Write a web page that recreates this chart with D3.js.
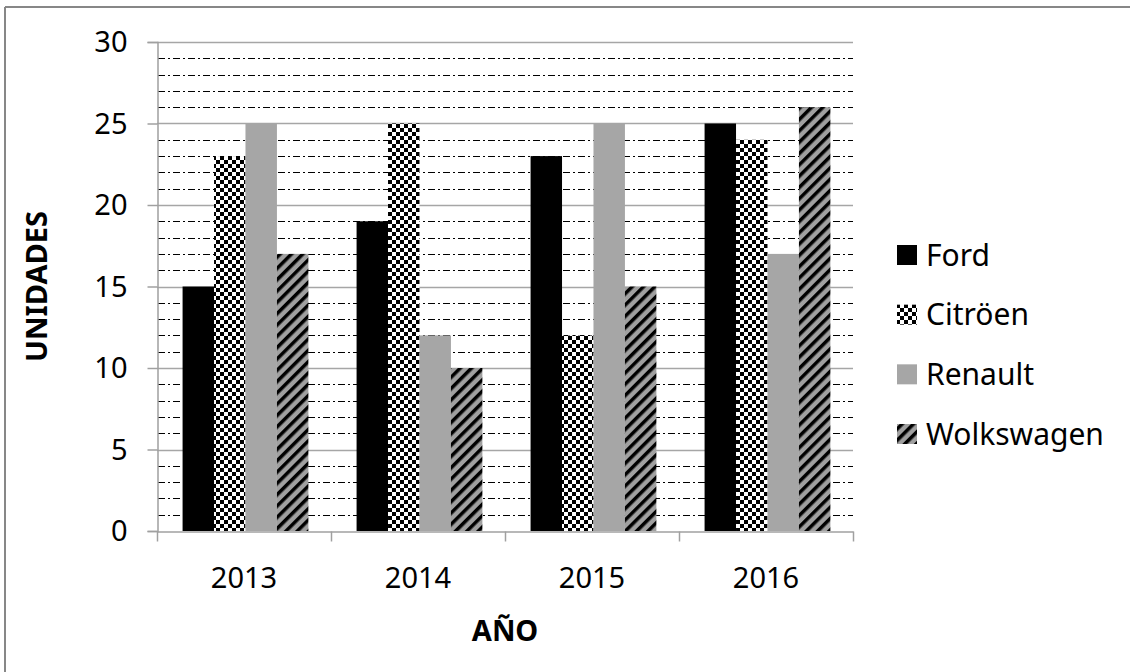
<!DOCTYPE html>
<html>
<head>
<meta charset="utf-8">
<script src="https://cdn.jsdelivr.net/npm/d3@7/dist/d3.min.js"></script>
<style>
  html, body { margin: 0; padding: 0; background: #fff; }
  svg { display: block; }
  text { font-family: "Noto Sans", "Open Sans", sans-serif; fill: #000; }
</style>
</head>
<body>
<script>
const years = ["2013", "2014", "2015", "2016"];
const seriesNames = ["Ford", "Citröen", "Renault", "Wolkswagen"];
const ford = [15, 19, 23, 25];
const citroen = [23, 25, 12, 24];
const renault = [25, 12, 25, 17];
const wolkswagen = [17, 10, 15, 26];
const yTicks = [0, 5, 10, 15, 20, 25, 30];
const xTitle = "AÑO";
const yTitle = "UNIDADES";

const seriesValues = [ford, citroen, renault, wolkswagen];
const fills = ["#000000", "url(#checker)", "#a6a6a6", "url(#hatch)"];

const W = 1130, H = 672;
const svg = d3.select("body").append("svg").attr("width", W).attr("height", H);

const defs = svg.append("defs");
const chk = defs.append("pattern").attr("id", "checker").attr("patternUnits", "userSpaceOnUse")
  .attr("width", 8).attr("height", 8);
chk.append("rect").attr("width", 8).attr("height", 8).attr("fill", "#fff");
chk.append("rect").attr("width", 4).attr("height", 4).attr("fill", "#000");
chk.append("rect").attr("x", 4).attr("y", 4).attr("width", 4).attr("height", 4).attr("fill", "#000");

const hatch = defs.append("pattern").attr("id", "hatch").attr("patternUnits", "userSpaceOnUse")
  .attr("width", 8).attr("height", 8).attr("patternTransform", "rotate(45)");
hatch.append("rect").attr("width", 8).attr("height", 8).attr("fill", "#a0a0a0");
hatch.append("rect").attr("width", 3.5).attr("height", 8).attr("fill", "#000");

// outer border (top & left visible)
svg.append("line").attr("x1", 5).attr("y1", 7).attr("x2", W).attr("y2", 7)
  .attr("stroke", "#878787").attr("stroke-width", 2);
svg.append("line").attr("x1", 5).attr("y1", 7).attr("x2", 5).attr("y2", H)
  .attr("stroke", "#878787").attr("stroke-width", 2);

const pL = 157, pR = 853, pT = 42, pB = 531;
const x = d3.scaleBand().domain(years).range([pL, pR]).padding(0);
const bw = x.bandwidth();
const xs = d3.scaleBand().domain(seriesNames).range([bw * 0.147, bw * 0.87]).padding(0);
const y = d3.scaleLinear().domain([0, 30]).range([pB, pT]);

// minor gridlines
const minor = d3.range(1, 30).filter(v => v % 5 !== 0);
svg.append("g").selectAll("line").data(minor).join("line")
  .attr("x1", pL + 1).attr("x2", pR)
  .attr("y1", d => Math.round(y(d)) + 0.5).attr("y2", d => Math.round(y(d)) + 0.5)
  .attr("stroke", "#000").attr("stroke-width", 1).attr("stroke-dasharray", "7,3,2,3");

// major gridlines
svg.append("g").selectAll("line").data(yTicks.filter(v => v > 0)).join("line")
  .attr("x1", pL).attr("x2", pR)
  .attr("y1", d => Math.round(y(d)) + 0.5).attr("y2", d => Math.round(y(d)) + 0.5)
  .attr("stroke", "#a6a6a6").attr("stroke-width", 1.5);

// bars
seriesNames.forEach((s, si) => {
  svg.append("g").selectAll("rect").data(years).join("rect")
    .attr("x", (d) => x(d) + xs(s))
    .attr("width", xs.bandwidth())
    .attr("y", (d, i) => y(seriesValues[si][i]))
    .attr("height", (d, i) => y(0) - y(seriesValues[si][i]))
    .attr("fill", fills[si]);
});

// y axis
const yAxis = d3.axisLeft(y).tickValues(yTicks).tickSize(10).tickPadding(20);
const gy = svg.append("g").attr("transform", `translate(${pL + 0.5},0)`).call(yAxis);
gy.select(".domain").attr("stroke", "#a0a0a0").attr("stroke-width", 1.5);
gy.selectAll(".tick line").attr("stroke", "#a0a0a0").attr("stroke-width", 1.5);
gy.selectAll(".tick text").attr("font-size", 29).attr("font-family", "Noto Sans").attr("dy", "0.34em");

// x axis
const gx = svg.append("g").attr("transform", `translate(0,${pB + 0.5})`)
  .call(d3.axisBottom(x).tickSize(0).tickPadding(0));
gx.select(".domain").attr("stroke", "#a0a0a0").attr("stroke-width", 1.5);
gx.selectAll(".tick text").attr("font-size", 29).attr("font-family", "Noto Sans")
  .attr("y", 47).attr("dy", "0.34em");
const bounds = years.map(d => x(d)).concat([pR]);
gx.append("g").selectAll("line").data(bounds).join("line")
  .attr("x1", d => d + 0.5).attr("x2", d => d + 0.5).attr("y1", 0).attr("y2", 10)
  .attr("stroke", "#a0a0a0").attr("stroke-width", 1.5);

// titles
svg.append("text").attr("x", (pL + pR) / 2).attr("y", 631).attr("dy", "0.35em")
  .attr("text-anchor", "middle").attr("font-size", 29).attr("font-weight", "bold").text(xTitle);
svg.append("text").attr("transform", `translate(37,${(pT + pB) / 2}) rotate(-90)`)
  .attr("dy", "0.35em").attr("text-anchor", "middle").attr("font-size", 29)
  .attr("font-weight", "bold").text(yTitle);

// legend
const lg = svg.append("g");
const rowY = d3.scalePoint().domain(seriesNames).range([255, 434]);
seriesNames.forEach((s, si) => {
  const cy = rowY(s);
  lg.append("rect").attr("x", 897).attr("y", cy - 10).attr("width", 20).attr("height", 20)
    .attr("fill", fills[si]);
  lg.append("text").attr("x", 926).attr("y", cy).attr("dy", "0.36em")
    .attr("font-size", 30).text(s);
});
</script>
</body>
</html>
